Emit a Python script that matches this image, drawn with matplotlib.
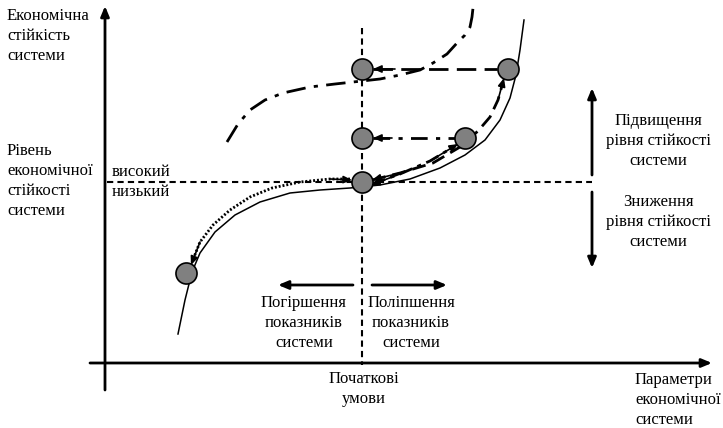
import matplotlib.pyplot as plt

plt.rcParams['font.family'] = ['Liberation Serif', 'DejaVu Serif']

# --- data (pixel coords, y down) ---
base_x = [178, 185, 192, 200, 215, 235, 260, 290, 320, 350, 380, 410, 440, 465, 485, 500, 510, 516, 520, 524]
base_y = [334, 300, 272, 253, 232, 215, 202, 193, 190, 188, 185, 179, 168, 155, 140, 120, 98, 75, 50, 20]

upper_x = [227, 238, 250, 265, 283, 310, 335, 353, 380, 400, 420, 433, 447, 457, 465, 470, 472, 473]
upper_y = [142, 124, 110, 100, 93, 87, 84, 82, 79, 75, 70, 63, 54, 43, 35, 27, 17, 8]

circle_x = [362, 508, 362, 465, 362, 186]
circle_y = [69, 69, 138, 138, 182, 273]

# dotted path: start circle -> lower-left circle
dot_x = [350, 330, 300, 272, 250, 230, 213, 200, 192]
dot_y = [179, 179, 182, 188, 197, 210, 225, 242, 262]

# dashed path: start circle -> upper-right circle
dash_x = [372, 400, 433, 460, 478, 490, 498, 503]
dash_y = [180, 173, 163, 147, 131, 117, 100, 82]

# dash-dot path: start circle -> middle circle
dd_x = [372, 400, 430, 455]
dd_y = [184, 174, 161, 146]

fig = plt.figure(figsize=(7.23, 4.28), dpi=100)
ax = fig.add_axes([0, 0, 1, 1])
ax.set_xlim(0, 723)
ax.set_ylim(428, 0)
ax.axis('off')

arrow_kw = dict(arrowstyle='-|>,head_length=0.6,head_width=0.25', color='black', lw=2, shrinkA=0, shrinkB=0)
small_head = dict(arrowstyle='-|>,head_length=0.5,head_width=0.22', color='black', lw=1.2, shrinkA=0, shrinkB=0)

# axes
ax.annotate('', xy=(105, 6), xytext=(105, 390), arrowprops=arrow_kw)
ax.annotate('', xy=(712, 363), xytext=(90, 363), arrowprops=arrow_kw)

# reference dashed lines
ax.plot([362, 362], [28, 365], ls=(0, (3, 2)), color='black', lw=1.5)
ax.plot([107, 592], [182, 182], ls=(0, (3, 2)), color='black', lw=1.5)

# curves
ax.plot(base_x, base_y, color='black', lw=1.1)
ax.plot(upper_x, upper_y, color='black', lw=2, ls=(0, (7, 3, 1.5, 3)))

# transition paths
ax.plot(dot_x, dot_y, color='black', lw=2, ls=(0, (0.7, 0.7)))
ax.annotate('', xy=(dot_x[0] + 2, dot_y[0] + 1), xytext=(dot_x[1], dot_y[1]), arrowprops=small_head)
ax.annotate('', xy=(dot_x[-1] - 1, dot_y[-1] + 3), xytext=(dot_x[-2], dot_y[-2]), arrowprops=small_head)

ax.plot(dash_x, dash_y, color='black', lw=2, ls=(0, (5, 2.5)))
ax.annotate('', xy=(dash_x[0], dash_y[0]), xytext=(dash_x[1], dash_y[1]), arrowprops=small_head)
ax.annotate('', xy=(dash_x[-1] + 1, dash_y[-1] - 4), xytext=(dash_x[-2], dash_y[-2]), arrowprops=small_head)

ax.plot(dd_x, dd_y, color='black', lw=2, ls=(0, (5, 2, 1.5, 2)))
ax.annotate('', xy=(dd_x[0] - 1, dd_y[0] + 1), xytext=(dd_x[1], dd_y[1]), arrowprops=small_head)
ax.annotate('', xy=(dd_x[-1] + 3, dd_y[-1] - 2), xytext=(dd_x[-2], dd_y[-2]), arrowprops=small_head)

# horizontal arrows to the vertical line
ax.plot([373, 497], [69, 69], color='black', lw=2, ls=(0, (7, 3)))
ax.annotate('', xy=(373, 69), xytext=(395, 69), arrowprops=small_head)
ax.plot([373, 455], [138, 138], color='black', lw=2, ls=(0, (6, 3, 1.5, 3)))
ax.annotate('', xy=(373, 138), xytext=(392, 138), arrowprops=small_head)

# state circles
ax.scatter(circle_x, circle_y, s=230, facecolor='#808080', edgecolor='black', linewidth=1.2, zorder=5)

# side arrows
ax.annotate('', xy=(592, 88), xytext=(592, 175), arrowprops=arrow_kw)
ax.annotate('', xy=(592, 268), xytext=(592, 192), arrowprops=arrow_kw)
ax.annotate('', xy=(278, 285), xytext=(353, 285), arrowprops=arrow_kw)
ax.annotate('', xy=(447, 285), xytext=(372, 285), arrowprops=arrow_kw)

fs = 12
ls = 1.35
ax.text(7, 36, 'Економічна\nстійкість\nсистеми', fontsize=fs, va='center', ha='left', linespacing=ls)
ax.text(7, 181, 'Рівень\nекономічної\nстійкості\nсистеми', fontsize=fs, va='center', ha='left', linespacing=ls)
ax.text(112, 172, 'високий', fontsize=fs, va='center', ha='left')
ax.text(112, 192, 'низький', fontsize=fs, va='center', ha='left')
ax.text(658, 141, 'Підвищення\nрівня стійкості\nсистеми', fontsize=fs, va='center', ha='center', linespacing=ls)
ax.text(658, 222, 'Зниження\nрівня стійкості\nсистеми', fontsize=fs, va='center', ha='center', linespacing=ls)
ax.text(304, 323, 'Погіршення\nпоказників\nсистеми', fontsize=fs, va='center', ha='center', linespacing=ls)
ax.text(411, 323, 'Поліпшення\nпоказників\nсистеми', fontsize=fs, va='center', ha='center', linespacing=ls)
ax.text(364, 389, 'Початкові\nумови', fontsize=fs, va='center', ha='center', linespacing=ls)
ax.text(635, 400, 'Параметри\nекономічної\nсистеми', fontsize=fs, va='center', ha='left', linespacing=ls)

fig.savefig('out.png', dpi=100)
